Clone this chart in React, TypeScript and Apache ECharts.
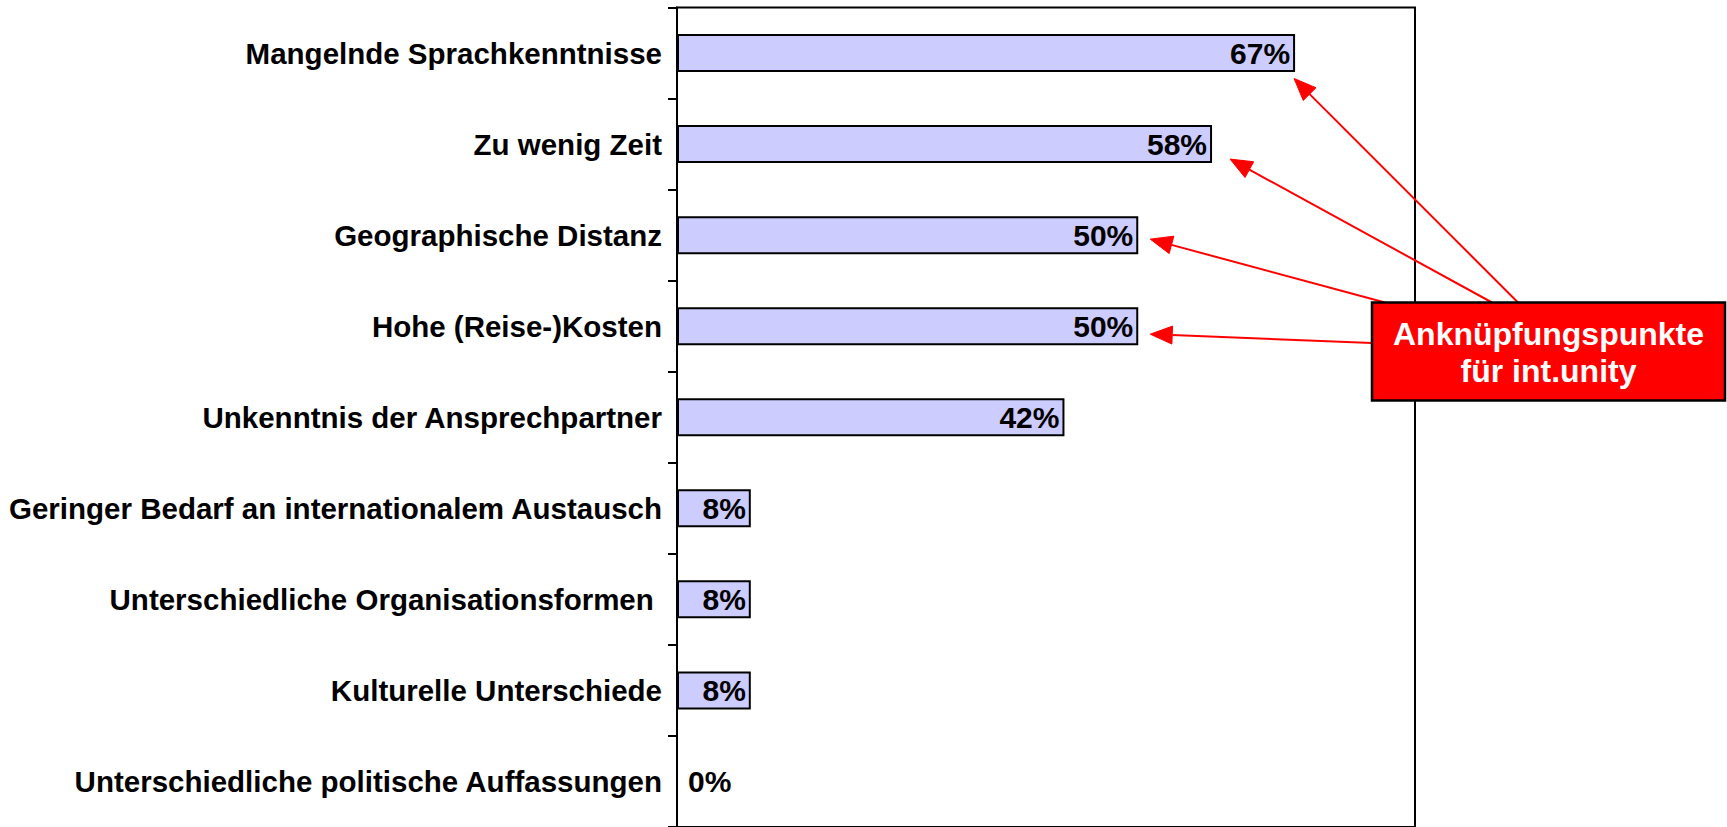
import React, { useEffect, useRef } from "react";
import * as echarts from "echarts";

const categories: string[] = [
  "Mangelnde Sprachkenntnisse",
  "Zu wenig Zeit",
  "Geographische Distanz",
  "Hohe (Reise-)Kosten",
  "Unkenntnis der Ansprechpartner",
  "Geringer Bedarf an internationalem Austausch",
  "Unterschiedliche Organisationsformen ",
  "Kulturelle Unterschiede",
  "Unterschiedliche politische Auffassungen",
];
const values: number[] = [67, 58, 50, 50, 42, 8, 8, 8, 0];
const xMax = 80;
const calloutLines: string[] = ["Anknüpfungspunkte", "für int.unity"];
const arrowTargets: number[] = [0, 1, 2, 3];

const FONT = "'Liberation Sans', Arial, Helvetica, sans-serif";

export default function App() {
  const ref = useRef<HTMLDivElement>(null);
  useEffect(() => {
    if (!ref.current) return;
    const chart = echarts.init(ref.current, null, { renderer: "svg" });
    const option: any = {
      animation: false,
      backgroundColor: "#ffffff",
      grid: {
        left: 677,
        top: 7.5,
        width: 738,
        height: 821,
        show: true,
        borderColor: "#000000",
        borderWidth: 2,
        backgroundColor: "transparent",
      },
      xAxis: {
        type: "value",
        min: 0,
        max: xMax,
        show: false,
        splitLine: { show: false },
      },
      yAxis: {
        type: "category",
        inverse: true,
        data: categories,
        axisLine: { show: true, lineStyle: { color: "#000000", width: 2 } },
        axisTick: { show: true, length: 9, lineStyle: { color: "#000000", width: 2 } },
        axisLabel: {
          color: "#000000",
          fontWeight: "bold",
          fontSize: 29.5,
          fontFamily: FONT,
          margin: 15,
        },
      },
      series: [
        {
          type: "bar",
          data: values.map((v) => ({
            value: v,
            label:
              v === 0
                ? { position: "right", distance: 10 }
                : undefined,
          })),
          barWidth: 38,
          itemStyle: { color: "#CCCCFF", borderColor: "#000000", borderWidth: 2 },
          label: {
            show: true,
            position: "insideRight",
            distance: 5,
            formatter: "{c}%",
            color: "#000000",
            fontWeight: "bold",
            fontSize: 30,
            fontFamily: FONT,
          },
        },
      ],
    };
    chart.setOption(option);

    // callout box geometry
    const box = { x: 1372, y: 302.5, w: 353, h: 98 };
    const starts: [number, number][] = [
      [1518, box.y],
      [1492, box.y],
      [1385, box.y],
      [box.x, 343],
    ];
    const offsets: [number, number][] = [
      [-1, 25.5],
      [18, 15],
      [12, 4],
      [12, 8],
    ];
    const graphics: any[] = [];
    arrowTargets.forEach((idx, i) => {
      const p = chart.convertToPixel({ gridIndex: 0 }, [values[idx], idx]) as number[];
      const tip: [number, number] = [p[0] + offsets[i][0], p[1] + offsets[i][1]];
      const s = starts[i];
      const dx = tip[0] - s[0];
      const dy = tip[1] - s[1];
      const len = Math.sqrt(dx * dx + dy * dy);
      const ux = dx / len;
      const uy = dy / len;
      const headLen = 22;
      const headHalf = 9;
      const bx = tip[0] - ux * headLen;
      const by = tip[1] - uy * headLen;
      graphics.push({
        type: "line",
        shape: { x1: s[0], y1: s[1], x2: bx, y2: by },
        style: { stroke: "#FF0000", lineWidth: 2 },
        z: 10,
      });
      graphics.push({
        type: "polygon",
        shape: {
          points: [
            tip,
            [bx - uy * headHalf, by + ux * headHalf],
            [bx + uy * headHalf, by - ux * headHalf],
          ],
        },
        style: { fill: "#FF0000", stroke: "#FF0000", lineWidth: 1 },
        z: 10,
      });
    });
    graphics.push({
      type: "rect",
      shape: { x: box.x, y: box.y, width: box.w, height: box.h },
      style: { fill: "#FF0000", stroke: "#000000", lineWidth: 2.5 },
      z: 20,
    });
    graphics.push({
      type: "text",
      x: box.x + box.w / 2,
      y: box.y + box.h / 2 + 1,
      style: {
        text: calloutLines.join("\n"),
        fill: "#ffffff",
        font: `bold 32px ${FONT}`,
        align: "center",
        verticalAlign: "middle",
        lineHeight: 37,
      },
      z: 21,
    });
    chart.setOption({ graphic: graphics });

    return () => chart.dispose();
  }, []);
  return (
    <div
      ref={ref}
      style={{ position: "fixed", left: 0, top: 0, width: 1727, height: 827 }}
    />
  );
}
